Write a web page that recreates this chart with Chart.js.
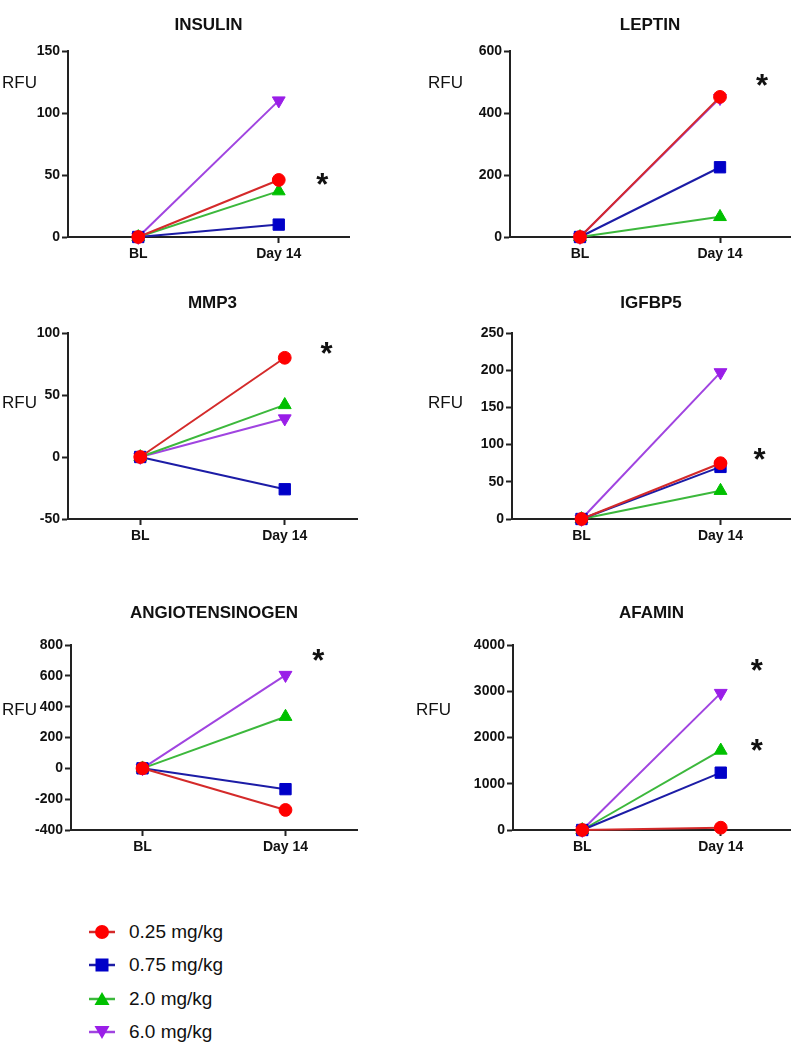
<!DOCTYPE html>
<html>
<head>
<meta charset="utf-8">
<script src="https://cdn.jsdelivr.net/npm/chart.js@4.4.0/dist/chart.umd.min.js"></script>
<style>
  body { margin: 0; background: #fff; width: 799px; height: 1050px; position: relative; overflow: hidden; font-family: "Liberation Sans", Arial, sans-serif; }
  canvas { position: absolute; }
  .legend { position: absolute; left: 88px; top: 915px; }
  .row { display: flex; align-items: center; height: 33.5px; font-size: 19px; color: #111; }
  .row svg { margin-right: 13px; }
</style>
</head>
<body>
<canvas id="c0"></canvas>
<canvas id="c1"></canvas>
<canvas id="c2"></canvas>
<canvas id="c3"></canvas>
<canvas id="c4"></canvas>
<canvas id="c5"></canvas>
<div class="legend" id="legend"></div>
<script>
// time points and dose groups
const timepoints = ['BL', 'Day 14'];
const doses = ['0.25 mg/kg', '0.75 mg/kg', '2.0 mg/kg', '6.0 mg/kg'];

// RFU per dose: [BL, Day 14]   order: 0.25, 0.75, 2.0, 6.0
const insulin = [[0, 46], [0, 10], [0, 37], [0, 110]];
const leptin = [[0, 452], [0, 225], [0, 65], [0, 448]];
const mmp3 = [[0, 80], [0, -26], [0, 42], [0, 31]];
const igfbp5 = [[0, 75], [0, 70], [0, 38], [0, 197]];
const angiotensinogen = [[0, -270], [0, -135], [0, 335], [0, 605]];
const afamin = [[0, 50], [0, 1240], [0, 1720], [0, 2960]];

// y axis ranges [min, max, step]
const insulinAxis = [0, 150, 50];
const leptinAxis = [0, 600, 200];
const mmp3Axis = [-50, 100, 50];
const igfbp5Axis = [0, 250, 50];
const angiotensinogenAxis = [-400, 800, 200];
const afaminAxis = [0, 4000, 1000];

// significance asterisks [x, y] in data units
const insulinStars = [[1.31, 47]];
const leptinStars = [[1.30, 506]];
const mmp3Stars = [[1.29, 88]];
const igfbp5Stars = [[1.28, 88]];
const angiotensinogenStars = [[1.23, 733]];
const afaminStars = [[1.26, 3570], [1.26, 1840]];

const markerColors = ['#ff0000', '#0000c8', '#00c000', '#9a1ee8'];
const lineColors = ['#d42a2a', '#1c1ca6', '#3cb83c', '#a044e0'];
const pointStyles = ['circle', 'rect', 'triangle', 'triangle'];
const pointRot = [0, 0, 0, 180];
const pointSize = [6.4, 8, 7.4, 7.4];

// pos: canvas left, top, width, height; plot area inside canvas
const panels = [
  { title: 'INSULIN', data: insulin, axis: insulinAxis, stars: insulinStars,
    pos: [0, 0, 360, 270], yW: 68, padTop: 51, padRight: 11, plotH: 186, titleGap: 26, rfu: [66, 32] },
  { title: 'LEPTIN', data: leptin, axis: leptinAxis, stars: leptinStars,
    pos: [400, 0, 399, 270], yW: 110, padTop: 51, padRight: 9, plotH: 186, titleGap: 26, rfu: [82, 32] },
  { title: 'MMP3', data: mmp3, axis: mmp3Axis, stars: mmp3Stars,
    pos: [0, 270, 370, 280], yW: 68, padTop: 63, padRight: 13, plotH: 186, titleGap: 30, rfu: [66, 70] },
  { title: 'IGFBP5', data: igfbp5, axis: igfbp5Axis, stars: igfbp5Stars,
    pos: [400, 270, 399, 280], yW: 112, padTop: 63, padRight: 9, plotH: 186, titleGap: 30, rfu: [84, 70] },
  { title: 'ANGIOTENSINOGEN', data: angiotensinogen, axis: angiotensinogenAxis, stars: angiotensinogenStars,
    pos: [0, 590, 370, 280], yW: 71, padTop: 55, padRight: 13, plotH: 185, titleGap: 32, rfu: [69, 65] },
  { title: 'AFAMIN', data: afamin, axis: afaminAxis, stars: afaminStars,
    pos: [400, 590, 399, 280], yW: 113, padTop: 55, padRight: 9, plotH: 185, titleGap: 32, rfu: [97, 65] }
];

const decor = {
  id: 'decor',
  afterDraw(chart, args, opts) {
    const ctx = chart.ctx;
    const a = chart.chartArea;
    ctx.save();
    ctx.fillStyle = '#111';
    ctx.textAlign = 'center';
    ctx.textBaseline = 'middle';
    ctx.font = 'bold 17px "Liberation Sans", Arial, sans-serif';
    ctx.fillText(opts.title, (a.left + a.right) / 2, a.top - opts.titleGap);
    ctx.textAlign = 'left';
    ctx.font = '17px "Liberation Sans", Arial, sans-serif';
    ctx.fillText('RFU', a.left - opts.rfu[0], a.top + opts.rfu[1]);
    ctx.font = 'bold 31px "Liberation Sans", Arial, sans-serif';
    ctx.textBaseline = 'alphabetic';
    ctx.textAlign = 'center';
    const m = ctx.measureText('*');
    const off = (m.actualBoundingBoxAscent - m.actualBoundingBoxDescent) / 2;
    opts.stars.forEach(s => {
      const px = chart.scales.x.getPixelForValue(s[0]);
      const py = chart.scales.y.getPixelForValue(s[1]);
      ctx.fillText('*', px, py + off);
    });
    ctx.restore();
  }
};

const tickFont = { family: '"Liberation Sans", Arial, sans-serif', size: 14, weight: 'bold' };

panels.forEach((p, i) => {
  const cv = document.getElementById('c' + i);
  cv.width = p.pos[2];
  cv.height = p.pos[3];
  cv.style.left = p.pos[0] + 'px';
  cv.style.top = p.pos[1] + 'px';
  const xH = p.pos[3] - p.padTop - p.plotH;
  new Chart(cv, {
    type: 'line',
    data: {
      datasets: p.data.map((vals, d) => ({
        label: doses[d],
        data: vals.map((v, k) => ({ x: k, y: v })),
        borderColor: lineColors[d],
        borderWidth: 2,
        backgroundColor: markerColors[d],
        pointBackgroundColor: markerColors[d],
        pointBorderColor: markerColors[d],
        pointBorderWidth: 1,
        pointStyle: pointStyles[d],
        pointRotation: pointRot[d],
        pointRadius: pointSize[d],
        pointHoverRadius: pointSize[d],
        clip: false,
        tension: 0
      }))
    },
    options: {
      responsive: false,
      animation: false,
      devicePixelRatio: 1,
      layout: { padding: { top: p.padTop, right: p.padRight, left: 0, bottom: 0 } },
      plugins: {
        legend: { display: false },
        tooltip: { enabled: false },
        decor: { title: p.title, titleGap: p.titleGap, rfu: p.rfu, stars: p.stars }
      },
      scales: {
        x: {
          type: 'linear',
          min: -0.5,
          max: 1.5,
          afterBuildTicks: s => { s.ticks = timepoints.map((t, k) => ({ value: k })); },
          afterFit: s => { s.height = xH; },
          ticks: { callback: v => timepoints[v], font: tickFont, color: '#111', padding: 3, maxRotation: 0 },
          grid: { drawOnChartArea: false, drawTicks: true, tickLength: 6, tickColor: '#222', tickWidth: 2 },
          border: { display: true, color: '#222', width: 2 }
        },
        y: {
          min: p.axis[0],
          max: p.axis[1],
          afterFit: s => { s.width = p.yW; },
          ticks: { stepSize: p.axis[2], callback: v => String(v), font: tickFont, color: '#111', padding: 2 },
          grid: { drawOnChartArea: false, drawTicks: true, tickLength: 6, tickColor: '#222', tickWidth: 2 },
          border: { display: true, color: '#222', width: 2 }
        }
      }
    },
    plugins: [decor]
  });
});

// legend
const legend = document.getElementById('legend');
doses.forEach((d, k) => {
  const c = markerColors[k];
  let shape;
  if (k === 0) shape = `<circle cx="14" cy="10" r="7" fill="${c}"/>`;
  else if (k === 1) shape = `<rect x="7.5" y="3.5" width="13" height="13" fill="${c}"/>`;
  else if (k === 2) shape = `<polygon points="14,3 21.5,16 6.5,16" fill="${c}"/>`;
  else shape = `<polygon points="14,17 21.5,4 6.5,4" fill="${c}"/>`;
  legend.insertAdjacentHTML('beforeend',
    `<div class="row"><svg width="28" height="20"><line x1="1" y1="10" x2="27" y2="10" stroke="${lineColors[k]}" stroke-width="2.5"/>${shape}</svg><span>${d}</span></div>`);
});
</script>
</body>
</html>
